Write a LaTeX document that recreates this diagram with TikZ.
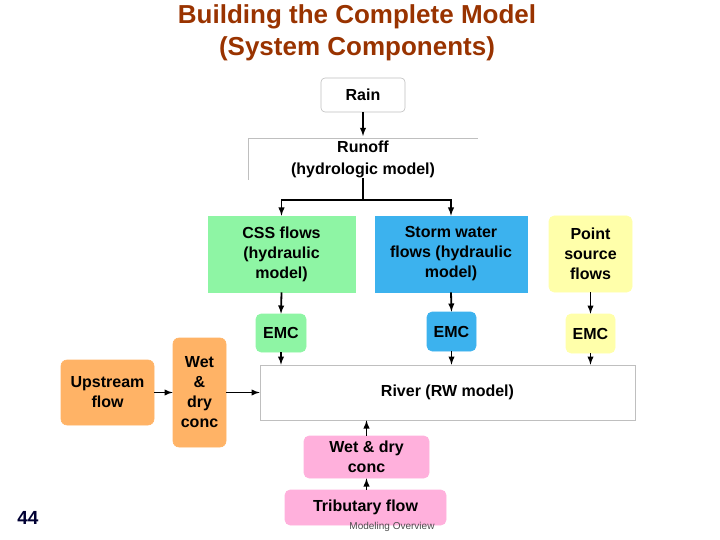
\documentclass[tikz,border=0pt]{standalone}
\usepackage{fontspec}
\setmainfont{Liberation Sans}
\begin{document}
\begin{tikzpicture}[x=1pt,y=-1pt,
 box/.style={draw=#1, line width=0.6pt, font=\fontsize{16}{20}\selectfont\bfseries, align=center, inner sep=0pt},
 arr/.style={-latex, line width=1.8pt},
 every node/.style={inner sep=0pt}]
\definecolor{cgreen}{HTML}{8EF5A4}
\definecolor{cblue}{HTML}{3CB2EE}
\definecolor{cyel}{HTML}{FFFFAA}
\definecolor{corange}{HTML}{FFB366}
\definecolor{cpink}{HTML}{FFB0DC}
\definecolor{ctitle}{HTML}{993300}
\colorlet{lgray}{gray!50}
\useasboundingbox (0,0) rectangle (720,540);
\node[font=\fontsize{26}{32}\selectfont\bfseries, text=ctitle, align=center] (title) at (357,33) {Building the Complete Model\\(System Components)};
% boxes
\node[box=lgray, fill=white, rounded corners=4pt, minimum width=84, minimum height=34] (rain) at (363,95) {Rain};
\node[font=\fontsize{16}{22}\selectfont\bfseries, align=center] (runoff) at (363,159) {Runoff\\(hydrologic model)};
\draw[lgray, line width=0.8pt] (248,180) -- (248,138) -- (478,138);
\node[box=cgreen, fill=cgreen, minimum width=147, minimum height=76] (css) at (281.5,254) {CSS flows\\(hydraulic\\model)};
\node[box=cblue, fill=cblue, minimum width=152, minimum height=76] (storm) at (451,254) {Storm water\\flows (hydraulic\\model)};
\node[box=cyel, fill=cyel, rounded corners=5pt, minimum width=83, minimum height=76] (point) at (590.5,254) {Point\\source\\flows};
\node[box=cgreen, fill=cgreen, rounded corners=5pt, minimum width=50, minimum height=38] (emc1) at (281,333) {EMC};
\node[box=cblue, fill=cblue, rounded corners=5pt, minimum width=49, minimum height=39] (emc2) at (451.5,331.5) {EMC};
\node[box=cyel, fill=cyel, rounded corners=5pt, minimum width=49, minimum height=39] (emc3) at (590.5,333.5) {EMC};
\node[box=lgray, fill=white, minimum width=375, minimum height=55] (river) at (447.5,392.5) {River (RW model)};
\node[box=corange, fill=corange, rounded corners=6pt, minimum width=93, minimum height=65] (up) at (107.5,392.5) {Upstream\\flow};
\node[box=corange, fill=corange, rounded corners=6pt, minimum width=53, minimum height=109] (wd) at (199.5,392.5) {Wet\\\&\\dry\\conc};
\node[box=cpink, fill=cpink, rounded corners=5pt, minimum width=125, minimum height=42] (twd) at (366.5,457) {Wet \& dry\\conc};
\node[box=cpink, fill=cpink, rounded corners=5pt, minimum width=161, minimum height=35] (trib) at (365.5,507.5) {Tributary flow};
\node[font=\fontsize{10}{12}\selectfont, text=black!70] (foot) at (392,527) {Modeling Overview};
\node[font=\fontsize{19}{22}\selectfont\bfseries, text=black!80!blue] (num) at (28,518) {44};
% connectors
\draw[arr] (rain.south) -- (363,136);
\coordinate (j) at (363,200);
\draw[line width=1.8pt] (363,178) -- (j);
\draw[arr] (j) -| (css.north);
\draw[arr] (j) -| (storm.north);
\draw[arr] (css.south) -- (emc1.north);
\draw[arr] (storm.south) -- (emc2.north);
\draw[arr] (point.south) -- (emc3.north);
\draw[arr] (emc1.south) -- (emc1.south |- river.north);
\draw[arr] (emc2.south) -- (emc2.south |- river.north);
\draw[arr] (emc3.south) -- (emc3.south |- river.north);
\draw[arr] (up.east) -- (wd.west);
\draw[arr] (wd.east) -- (river.west);
\draw[arr] (twd.north) -- (twd.north |- river.south);
\draw[arr] (trib.north -| twd.south) -- (twd.south);
\end{tikzpicture}
\end{document}
